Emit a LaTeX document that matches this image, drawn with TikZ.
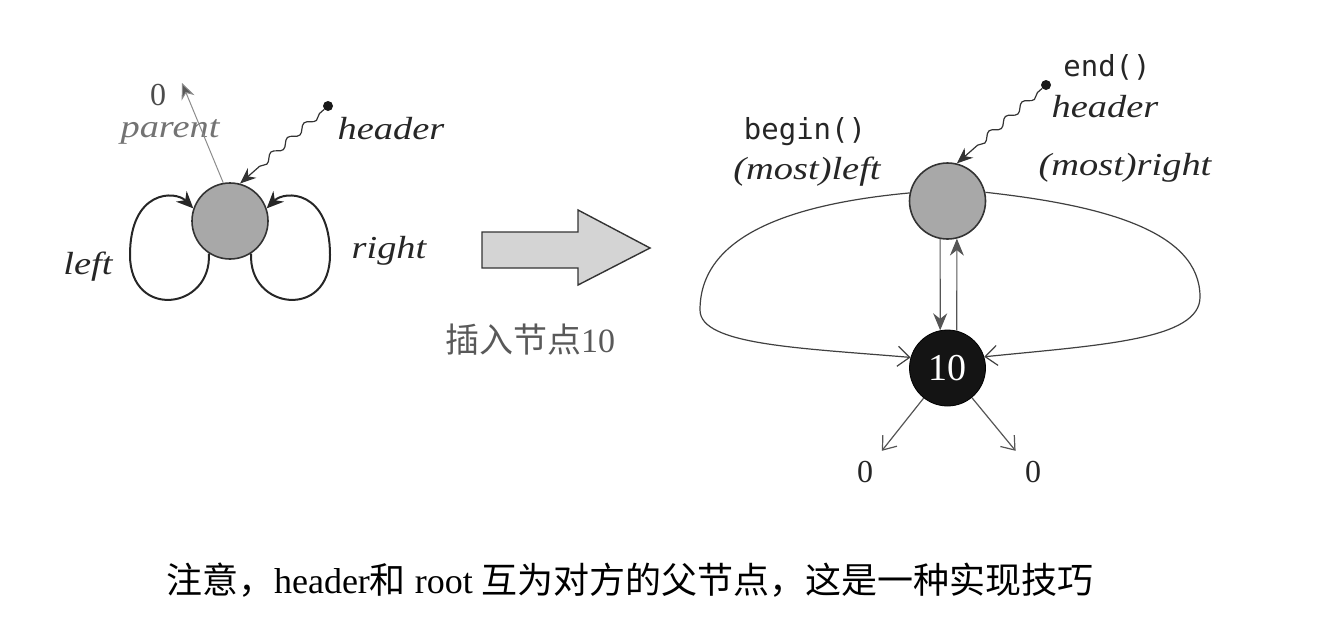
\documentclass[tikz,border=0pt]{standalone}
\usepackage{fontspec}
\setmainfont{Liberation Serif}
\newfontfamily\cjk{Noto Sans CJK SC}
\newfontfamily\itw[FakeStretch=1.2]{Liberation Serif Italic}
\newfontfamily\mono{DejaVu Sans Mono}
\usetikzlibrary{arrows.meta,decorations.pathmorphing,calc}
\definecolor{txt}{HTML}{262626}
\definecolor{nodegray}{HTML}{A8A8A8}
\definecolor{linegray}{HTML}{555555}
\tikzset{
  itlabel/.style={inner sep=0pt, text=txt, font=\fontsize{16}{18}\selectfont\itw},
  monolabel/.style={inner sep=0pt, text=txt, font=\fontsize{14.5}{16}\selectfont\mono},
  numlabel/.style={inner sep=0pt, text=txt, font=\fontsize{16}{18}\selectfont},
  graynode/.style={circle, draw=black!80, line width=0.8pt, fill=nodegray, minimum size=38pt, inner sep=0pt},
  blacknode/.style={circle, draw=black, fill=black!92, minimum size=38pt, inner sep=0pt, text=white, font=\fontsize{19}{21}\selectfont},
  dotnode/.style={circle, fill=black!90, inner sep=0pt, minimum size=5pt},
  selfloop/.style={line width=1pt, draw=black!85, -{Stealth[length=8.5pt,width=7.5pt]}},
  wavy/.style={line width=0.6pt, draw=black!80, decorate, decoration={snake, amplitude=1.6pt, segment length=11pt, pre length=3pt, post length=9pt}, -{Stealth[length=8pt,width=6.5pt]}},
  thinarrow/.style={line width=0.5pt, draw=black!45, -{Stealth[length=8pt,width=7pt, fill=black!65]}},
  vertarrow/.style={line width=0.6pt, draw=linegray, -{Stealth[length=8.5pt,width=7pt]}},
  bigloop/.style={line width=0.6pt, draw=black!75, -{Straight Barb[length=6pt,width=10pt]}},
  barbarrow/.style={line width=0.6pt, draw=linegray, -{Straight Barb[length=6pt,width=9pt]}},
}
\begin{document}
\begin{tikzpicture}[x=0.5pt,y=-0.5pt]
\useasboundingbox (0,0) rectangle (1325,627);

% ---------- left diagram ----------
\node[graynode] (c1) at (230,221) {};
\node[numlabel, text=black!70] (z0) at (158,95) {0};
\node[itlabel, text=black!55] (par) at (170,132) {parent};
\coordinate (ptip) at (182,83);
\draw[thinarrow] (c1.100) -- (ptip);
\node[dotnode] (d1) at (328,106) {};
\node[itlabel] (h1) at (391,129) {header};
\draw[wavy] (d1) -- (c1.75);
\node[itlabel] (lleft) at (88,267) {left};
\node[itlabel] (lright) at (389,251) {right};
\draw[selfloop] (c1.-123) .. controls (212,310) and (130,320) .. (130,255)
   .. controls (130,190) and (175,190) .. (c1.161);
\draw[selfloop] (c1.-57) .. controls (248,310) and (330,320) .. (330,255)
   .. controls (330,190) and (285,190) .. (c1.19);

% ---------- block arrow ----------
\draw[line width=0.7pt, draw=black!80, fill=black!17]
  (482,232) -- (578,232) -- (578,210) -- (650,248) -- (578,285) -- (578,268) -- (482,268) -- cycle;
\node[inner sep=0pt, text=black!65, font=\fontsize{17}{19}\selectfont] (ins) at (530,340) {{\cjk 插入节点}10};

% ---------- right diagram ----------
\node[graynode] (c2) at (947.5,201) {};
\node[blacknode] (c3) at (947.5,368) {10};
\node[dotnode] (d2) at (1046,85) {};
\node[monolabel] (endl) at (1107,67) {end()};
\node[itlabel] (h2) at (1105,107) {header};
\node[monolabel] (begl) at (805,132) {begin()};
\node[itlabel] (ml) at (807,172) {(most)left};
\node[itlabel] (mr) at (1125,168) {(most)right};
\draw[wavy] (d2) -- (c2.76);

\draw[vertarrow] (c2.-101) -- (c3.101);
\draw[vertarrow] (c3.76) -- (c2.-76);

\draw[bigloop] (c2.168) .. controls (780,205) and (700,240) .. (700,310)
   .. controls (700,345) and (800,348) .. (c3.164);
\draw[bigloop] (c2.13) .. controls (1100,205) and (1200,230) .. (1200,297)
   .. controls (1200,340) and (1100,345) .. (c3.17);

\node[numlabel, inner sep=5pt] (z1) at (865,472) {0};
\node[numlabel, inner sep=5pt] (z2) at (1033,472) {0};
\draw[barbarrow] (c3) -- (z1);
\draw[barbarrow] (c3) -- (z2);

% ---------- caption ----------
\node[inner sep=0pt, text=black, font=\fontsize{18}{20}\selectfont] (cap) at (630,580)
  {{\cjk 注意，}header{\cjk 和} root {\cjk 互为对方的父节点，这是一种实现技巧}};
\end{tikzpicture}
\end{document}
